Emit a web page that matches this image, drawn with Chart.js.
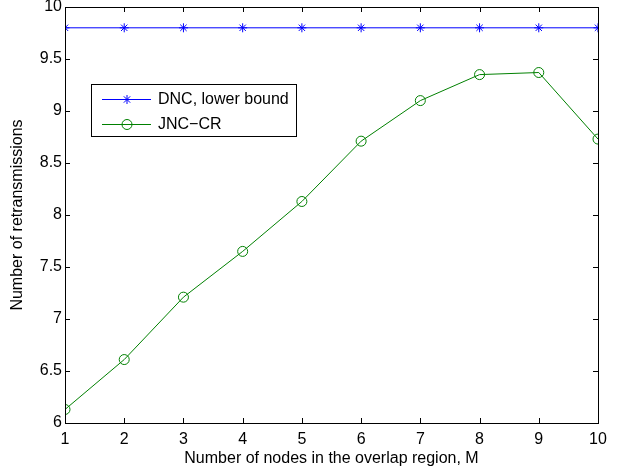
<!DOCTYPE html>
<html>
<head>
<meta charset="utf-8">
<script src="https://cdn.jsdelivr.net/npm/chart.js@4"></script>
<style>
  html, body { margin: 0; padding: 0; background: #fff; }
  #wrap { position: relative; width: 623px; height: 470px; }
</style>
</head>
<body>
<div id="wrap"><canvas id="c"></canvas></div>
<script>
// Data
const nodes = [1, 2, 3, 4, 5, 6, 7, 8, 9, 10];
const dncLowerBound = [9.8, 9.8, 9.8, 9.8, 9.8, 9.8, 9.8, 9.8, 9.8, 9.8];
const jncCr = [6.13, 6.61, 7.21, 7.65, 8.13, 8.71, 9.10, 9.35, 9.37, 8.73];
const seriesNames = ["DNC, lower bound", "JNC\u2212CR"];

const FONT = "'Liberation Sans', Arial, Helvetica, sans-serif";
Chart.defaults.font.family = FONT;
Chart.defaults.font.size = 16;
Chart.defaults.color = "#000";

const toXY = (ys) => ys.map((y, i) => ({ x: nodes[i], y: y }));

// MATLAB-like box with inward ticks plus a boxed legend
const matlabBox = {
  id: "matlabBox",
  afterDatasetsDraw(chart) {
    const { ctx, chartArea: a, scales } = chart;
    ctx.save();
    ctx.strokeStyle = "#000";
    ctx.lineWidth = 1;
    ctx.strokeRect(a.left + 0.5, a.top + 0.5, a.right - a.left, a.bottom - a.top);
    const len = 5;
    ctx.beginPath();
    scales.x.ticks.forEach((t) => {
      const px = Math.round(scales.x.getPixelForValue(t.value)) + 0.5;
      ctx.moveTo(px, a.bottom); ctx.lineTo(px, a.bottom - len);
      ctx.moveTo(px, a.top); ctx.lineTo(px, a.top + len);
    });
    scales.y.ticks.forEach((t) => {
      const py = Math.round(scales.y.getPixelForValue(t.value)) + 0.5;
      ctx.moveTo(a.left, py); ctx.lineTo(a.left + len, py);
      ctx.moveTo(a.right, py); ctx.lineTo(a.right - len, py);
    });
    ctx.stroke();

    // legend
    const lx = 91, ly = 84, lw = 205, lh = 52;
    ctx.fillStyle = "#fff";
    ctx.fillRect(lx, ly, lw, lh);
    ctx.strokeRect(lx + 0.5, ly + 0.5, lw, lh);
    chart.data.datasets.forEach((ds, i) => {
      const cy = ly + 15 + i * 25;
      ctx.strokeStyle = ds.borderColor;
      ctx.lineWidth = 1;
      ctx.beginPath();
      ctx.moveTo(lx + 11, cy + 0.5); ctx.lineTo(lx + 60, cy + 0.5);
      ctx.stroke();
      ctx.fillStyle = "rgba(0,0,0,0)";
      ctx.strokeStyle = ds.pointBorderColor;
      Chart.helpers.drawPoint(ctx, {
        pointStyle: ds.pointStyle, radius: ds.pointRadius,
        borderWidth: ds.pointBorderWidth, rotation: 0
      }, lx + 36, cy + 0.5);
      ctx.fillStyle = "#000";
      ctx.font = "16px " + FONT;
      ctx.textBaseline = "middle";
      ctx.fillText(ds.label, lx + 67, cy + 1);
    });
    ctx.restore();
  }
};

new Chart(document.getElementById("c"), {
  type: "line",
  data: {
    datasets: [
      {
        label: seriesNames[0],
        data: toXY(dncLowerBound),
        borderColor: "#0000ff",
        backgroundColor: "rgba(0,0,0,0)",
        borderWidth: 1,
        pointStyle: "star",
        pointRadius: 4.5,
        pointBorderWidth: 1,
        pointBorderColor: "#0000ff",
        tension: 0
      },
      {
        label: seriesNames[1],
        data: toXY(jncCr),
        borderColor: "#008000",
        backgroundColor: "rgba(0,0,0,0)",
        borderWidth: 1,
        pointStyle: "circle",
        pointRadius: 5,
        pointBorderWidth: 1,
        pointBorderColor: "#008000",
        pointBackgroundColor: "rgba(0,0,0,0)",
        tension: 0
      }
    ]
  },
  options: {
    responsive: true,
    maintainAspectRatio: false,
    animation: false,
    events: [],
    layout: { padding: { top: 7, right: 25, left: 8, bottom: 2 } },
    scales: {
      x: {
        type: "linear",
        min: 1, max: 10,
        grid: { drawOnChartArea: false, drawTicks: false },
        border: { display: false },
        ticks: { stepSize: 1, padding: 7, color: "#000" },
        title: { display: true, text: "Number of nodes in the overlap region, M", padding: { top: 0, bottom: 0 } },
        afterFit: (s) => { s.height = 45; }
      },
      y: {
        type: "linear",
        min: 6, max: 10,
        grid: { drawOnChartArea: false, drawTicks: false },
        border: { display: false },
        ticks: { stepSize: 0.5, padding: 3, color: "#000", callback: (v) => String(v) },
        title: { display: true, text: "Number of retransmissions", padding: { top: 0, bottom: 0 } },
        afterFit: (s) => { s.width = 57; s.paddingTop = 0; s.paddingBottom = 0; }
      }
    },
    plugins: {
      legend: { display: false },
      tooltip: { enabled: false }
    }
  },
  plugins: [matlabBox]
});
</script>
</body>
</html>
